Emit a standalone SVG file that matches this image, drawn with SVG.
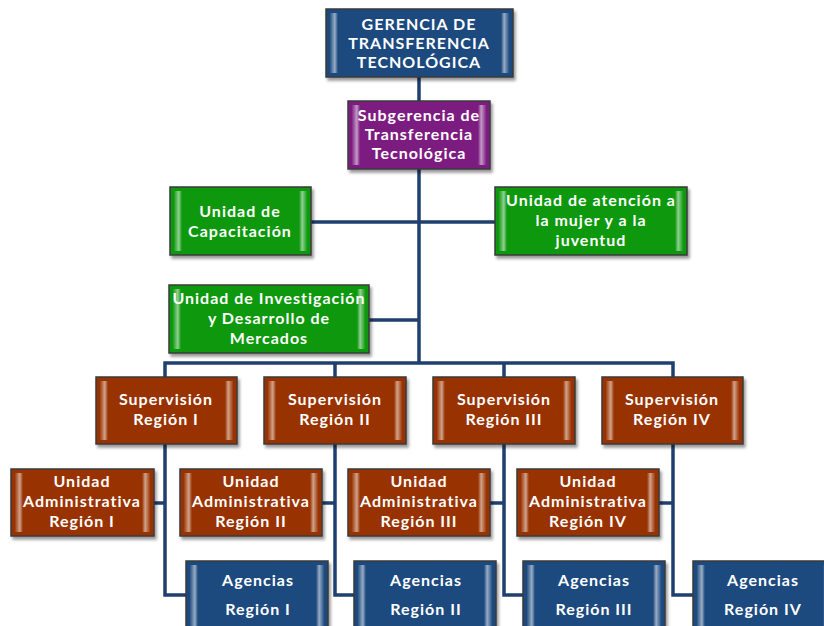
<svg xmlns="http://www.w3.org/2000/svg" width="824" height="626" viewBox="0 0 824 626">
<defs>
<filter id="sh" x="-10%" y="-10%" width="125%" height="130%">
<feDropShadow dx="2" dy="3" stdDeviation="1.5" flood-color="#000" flood-opacity="0.4"/>
</filter>
<linearGradient id="edgeL" x1="0" y1="0" x2="1" y2="0">
<stop offset="0" stop-color="#fff" stop-opacity="0.05"/>
<stop offset="0.6" stop-color="#fff" stop-opacity="0.55"/>
<stop offset="1" stop-color="#fff" stop-opacity="0"/>
</linearGradient>
<linearGradient id="edgeR" x1="1" y1="0" x2="0" y2="0">
<stop offset="0" stop-color="#fff" stop-opacity="0.05"/>
<stop offset="0.6" stop-color="#fff" stop-opacity="0.55"/>
<stop offset="1" stop-color="#fff" stop-opacity="0"/>
</linearGradient>
</defs>
<style>
.box{stroke:#3a3a3a;stroke-width:1.5;filter:url(#sh)}
.blue{fill:#1f4a7e}
.purple{fill:#7d1a80}
.green{fill:#0f980f}
.brown{fill:#983306}
.t{font-family:Lato,"Liberation Sans",sans-serif;font-weight:bold;font-size:16px;fill:#fff;text-anchor:middle;letter-spacing:1px}
.ln{stroke:#1f3f6e;stroke-width:3.5;fill:none}
</style>
<g id="connectors">
<path class="ln" d="M419 77V363"/>
<path class="ln" d="M311 222H495"/>
<path class="ln" d="M369 320H419"/>
<path class="ln" d="M165 377V363H673V377"/>
<path class="ln" d="M335 363V377M504 363V377"/>
<path class="ln" d="M165 444V595H186M154 503H165"/>
<path class="ln" d="M335 444V595H354M322 503H335"/>
<path class="ln" d="M504 444V595H523M490 503H504"/>
<path class="ln" d="M673 444V595H693M659 503H673"/>
</g>
<g id="n_gerencia">
<rect class="box blue" x="326" y="9" width="187" height="68"/>
<rect x="330" y="13" width="8" height="60" fill="url(#edgeL)"/><rect x="501" y="13" width="8" height="60" fill="url(#edgeR)"/>
<text class="t" x="419" y="30">GERENCIA DE</text><text class="t" x="419" y="49">TRANSFERENCIA</text><text class="t" x="419" y="68">TECNOLÓGICA</text>
</g>
<g id="n_subgerencia">
<rect class="box purple" x="348" y="101" width="142" height="68"/>
<rect x="352" y="105" width="8" height="60" fill="url(#edgeL)"/><rect x="478" y="105" width="8" height="60" fill="url(#edgeR)"/>
<text class="t" x="419" y="121">Subgerencia de</text><text class="t" x="419" y="140">Transferencia</text><text class="t" x="419" y="159">Tecnológica</text>
</g>
<g id="n_capacitacion">
<rect class="box green" x="170" y="187" width="141" height="68"/>
<rect x="174" y="191" width="8" height="60" fill="url(#edgeL)"/><rect x="299" y="191" width="8" height="60" fill="url(#edgeR)"/>
<text class="t" x="240" y="217">Unidad de</text><text class="t" x="240" y="237">Capacitación</text>
</g>
<g id="n_atencion">
<rect class="box green" x="495" y="187" width="192" height="68"/>
<rect x="499" y="191" width="8" height="60" fill="url(#edgeL)"/><rect x="675" y="191" width="8" height="60" fill="url(#edgeR)"/>
<text class="t" x="591" y="206">Unidad de atención a</text><text class="t" x="591" y="226">la mujer y a la</text><text class="t" x="591" y="246">juventud</text>
</g>
<g id="n_investigacion">
<rect class="box green" x="169" y="285" width="200" height="68"/>
<rect x="173" y="289" width="8" height="60" fill="url(#edgeL)"/><rect x="357" y="289" width="8" height="60" fill="url(#edgeR)"/>
<text class="t" x="269" y="304">Unidad de Investigación</text><text class="t" x="269" y="324">y Desarrollo de</text><text class="t" x="269" y="344">Mercados</text>
</g>
<g id="n_sup1">
<rect class="box brown" x="96" y="377" width="141" height="67"/>
<rect x="100" y="381" width="8" height="59" fill="url(#edgeL)"/><rect x="225" y="381" width="8" height="59" fill="url(#edgeR)"/>
<text class="t" x="166" y="405">Supervisión</text><text class="t" x="166" y="425">Región I</text>
</g>
<g id="n_sup2">
<rect class="box brown" x="264" y="377" width="142" height="67"/>
<rect x="268" y="381" width="8" height="59" fill="url(#edgeL)"/><rect x="394" y="381" width="8" height="59" fill="url(#edgeR)"/>
<text class="t" x="335" y="405">Supervisión</text><text class="t" x="335" y="425">Región II</text>
</g>
<g id="n_sup3">
<rect class="box brown" x="433" y="377" width="142" height="67"/>
<rect x="437" y="381" width="8" height="59" fill="url(#edgeL)"/><rect x="563" y="381" width="8" height="59" fill="url(#edgeR)"/>
<text class="t" x="504" y="405">Supervisión</text><text class="t" x="504" y="425">Región III</text>
</g>
<g id="n_sup4">
<rect class="box brown" x="602" y="377" width="141" height="67"/>
<rect x="606" y="381" width="8" height="59" fill="url(#edgeL)"/><rect x="731" y="381" width="8" height="59" fill="url(#edgeR)"/>
<text class="t" x="672" y="405">Supervisión</text><text class="t" x="672" y="425">Región IV</text>
</g>
<g id="n_ua1">
<rect class="box brown" x="11" y="469" width="143" height="67"/>
<rect x="15" y="473" width="8" height="59" fill="url(#edgeL)"/><rect x="142" y="473" width="8" height="59" fill="url(#edgeR)"/>
<text class="t" x="82" y="487">Unidad</text><text class="t" x="82" y="507">Administrativa</text><text class="t" x="82" y="527">Región I</text>
</g>
<g id="n_ua2">
<rect class="box brown" x="180" y="469" width="142" height="67"/>
<rect x="184" y="473" width="8" height="59" fill="url(#edgeL)"/><rect x="310" y="473" width="8" height="59" fill="url(#edgeR)"/>
<text class="t" x="251" y="487">Unidad</text><text class="t" x="251" y="507">Administrativa</text><text class="t" x="251" y="527">Región II</text>
</g>
<g id="n_ua3">
<rect class="box brown" x="348" y="469" width="142" height="67"/>
<rect x="352" y="473" width="8" height="59" fill="url(#edgeL)"/><rect x="478" y="473" width="8" height="59" fill="url(#edgeR)"/>
<text class="t" x="419" y="487">Unidad</text><text class="t" x="419" y="507">Administrativa</text><text class="t" x="419" y="527">Región III</text>
</g>
<g id="n_ua4">
<rect class="box brown" x="517" y="469" width="142" height="67"/>
<rect x="521" y="473" width="8" height="59" fill="url(#edgeL)"/><rect x="647" y="473" width="8" height="59" fill="url(#edgeR)"/>
<text class="t" x="588" y="487">Unidad</text><text class="t" x="588" y="507">Administrativa</text><text class="t" x="588" y="527">Región IV</text>
</g>
<g id="n_ag1">
<rect class="box blue" x="186" y="561" width="142" height="72"/>
<rect x="190" y="565" width="8" height="64" fill="url(#edgeL)"/><rect x="316" y="565" width="8" height="64" fill="url(#edgeR)"/>
<text class="t" x="258" y="586">Agencias</text><text class="t" x="258" y="615">Región I</text>
</g>
<g id="n_ag2">
<rect class="box blue" x="354" y="561" width="142" height="72"/>
<rect x="358" y="565" width="8" height="64" fill="url(#edgeL)"/><rect x="484" y="565" width="8" height="64" fill="url(#edgeR)"/>
<text class="t" x="426" y="586">Agencias</text><text class="t" x="426" y="615">Región II</text>
</g>
<g id="n_ag3">
<rect class="box blue" x="523" y="561" width="142" height="72"/>
<rect x="527" y="565" width="8" height="64" fill="url(#edgeL)"/><rect x="653" y="565" width="8" height="64" fill="url(#edgeR)"/>
<text class="t" x="594" y="586">Agencias</text><text class="t" x="594" y="615">Región III</text>
</g>
<g id="n_ag4">
<rect class="box blue" x="693" y="561" width="142" height="72"/>
<rect x="697" y="565" width="8" height="64" fill="url(#edgeL)"/><rect x="823" y="565" width="8" height="64" fill="url(#edgeR)"/>
<text class="t" x="763" y="586">Agencias</text><text class="t" x="763" y="615">Región IV</text>
</g>
</svg>
